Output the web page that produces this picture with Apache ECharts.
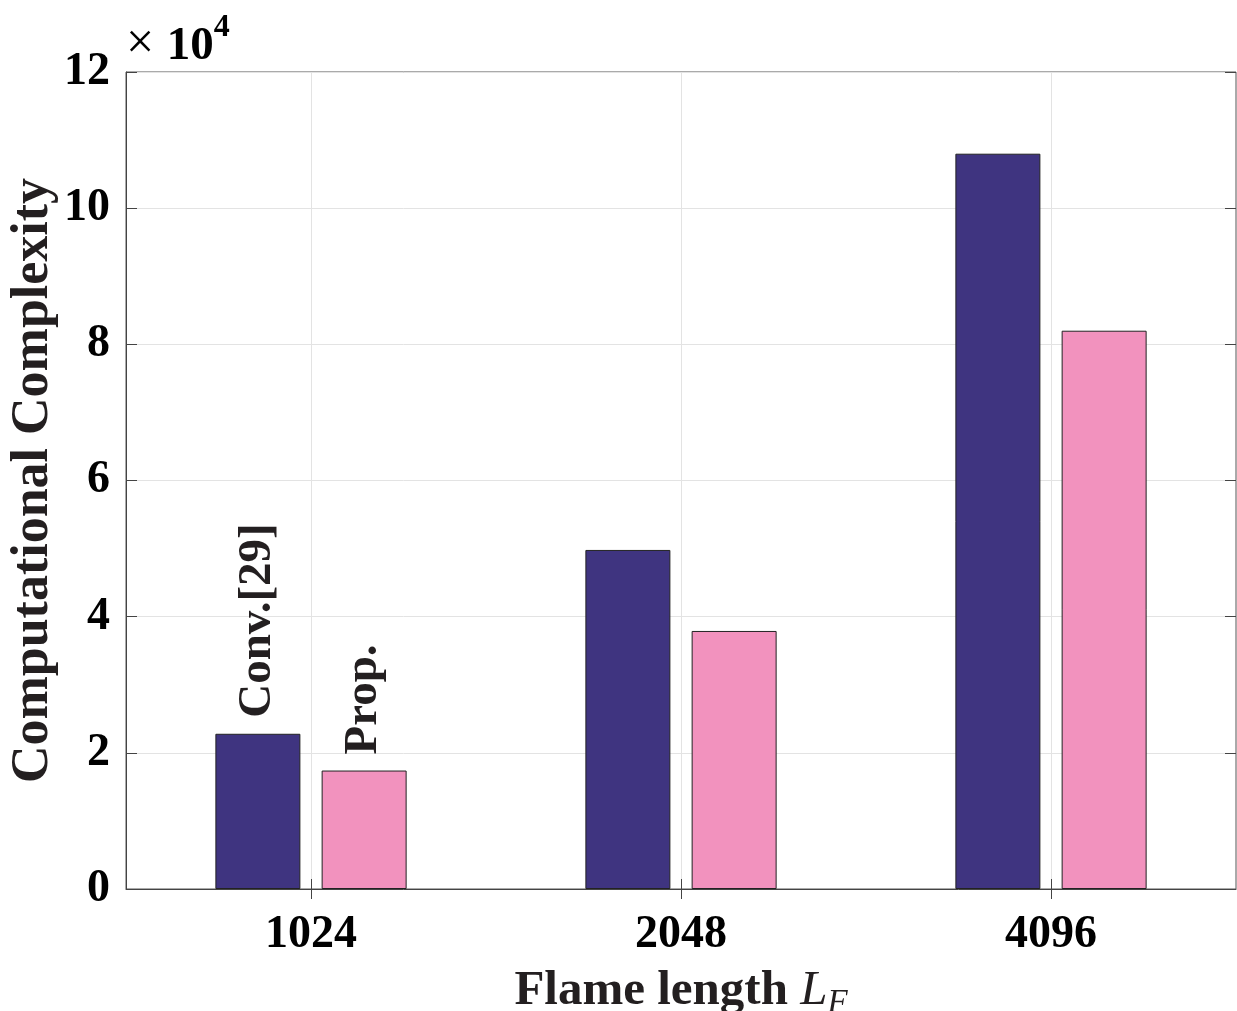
<!DOCTYPE html>
<html>
<head>
<meta charset="utf-8">
<script src="https://cdn.jsdelivr.net/npm/echarts@6/dist/echarts.min.js"></script>
<style>
  html, body { margin: 0; padding: 0; background: #fff; }
  #main { width: 1237px; height: 1011px; }
</style>
</head>
<body>
<div id="main"></div>
<script>
// data (values in units of 10^4)
var categories = ['1024', '2048', '4096'];
var convValues = [2.28, 4.98, 10.8];
var propValues = [1.74, 3.79, 8.2];
var seriesNames = ['Conv.[29]', 'Prop.'];
var yTicks = [0, 2, 4, 6, 8, 10, 12];

// helper categories so vertical grid lines fall on category centres
var gridCats = [];
categories.forEach(function (c) { gridCats.push('_' + c + 'a', c); });
gridCats.push('_end');

var font = 'Liberation Serif, Times New Roman, serif';
var chart = echarts.init(document.getElementById('main'), null, { renderer: 'canvas' });

function barLabel(text) {
  return {
    show: true,
    position: 'top',
    distance: 16,
    rotate: 90,
    align: 'left',
    verticalAlign: 'middle',
    fontFamily: font,
    fontWeight: 'bold',
    fontSize: 47,
    color: '#231f20',
    formatter: function (p) { return p.dataIndex === 0 ? text : ''; }
  };
}

var option = {
  backgroundColor: '#ffffff',
  animation: false,
  grid: {
    left: 126, right: 1, top: 72, bottom: 122,
    outerBoundsMode: 'none',
    containLabel: false,
    show: true, borderColor: '#555', borderWidth: 1, backgroundColor: 'transparent'
  },
  xAxis: [{
    type: 'category',
    data: categories,
    position: 'bottom',
    axisLine: { show: true, lineStyle: { color: '#444', width: 1 } },
    axisTick: { show: true, inside: true, alignWithLabel: true, length: 10, lineStyle: { color: '#444' } },
    axisLabel: { fontFamily: font, fontWeight: 'bold', fontSize: 46, color: '#000', margin: 23 },
    splitLine: { show: false },
    name: '{b|Flame length }{i|L}{s|F}',
    nameLocation: 'middle',
    nameGap: 74,
    nameMoveOverlap: false,
    nameTextStyle: {
      rich: {
        b: { fontFamily: font, fontWeight: 'bold', fontSize: 49, color: '#231f20' },
        i: { fontFamily: font, fontStyle: 'italic', fontSize: 49, color: '#231f20' },
        s: { fontFamily: font, fontStyle: 'italic', fontSize: 33, color: '#231f20', verticalAlign: 'bottom', padding: [24, 0, 0, 0] }
      }
    }
  }, {
    type: 'category',
    data: categories,
    position: 'top',
    axisLine: { show: false },
    axisTick: { show: true, inside: true, alignWithLabel: true, length: 10, lineStyle: { color: '#444' } },
    axisLabel: { show: false },
    splitLine: { show: false }
  }, {
    type: 'category',
    data: gridCats,
    boundaryGap: false,
    position: 'bottom',
    axisLine: { show: false },
    axisTick: { show: false },
    axisLabel: { show: false },
    splitLine: {
      show: true,
      interval: function (idx) { return idx % 2 === 1; },
      lineStyle: { color: '#e3e3e3', width: 1 }
    }
  }],
  yAxis: [{
    type: 'value',
    min: yTicks[0],
    max: yTicks[yTicks.length - 1],
    interval: yTicks[1] - yTicks[0],
    axisLine: { show: true, lineStyle: { color: '#444', width: 1 } },
    axisTick: { show: true, inside: true, length: 11, lineStyle: { color: '#444' } },
    axisLabel: { fontFamily: font, fontWeight: 'bold', fontSize: 46, color: '#000', margin: 16 },
    splitLine: { show: true, lineStyle: { color: '#e3e3e3', width: 1 } },
    name: 'Computational Complexity',
    nameLocation: 'middle',
    nameGap: 66,
    nameMoveOverlap: false,
    nameTextStyle: { fontFamily: font, fontWeight: 'bold', fontSize: 52, color: '#231f20' }
  }, {
    type: 'value',
    position: 'right',
    min: yTicks[0],
    max: yTicks[yTicks.length - 1],
    interval: yTicks[1] - yTicks[0],
    axisLine: { show: false },
    axisTick: { show: true, inside: true, length: 11, lineStyle: { color: '#444' } },
    axisLabel: { show: false },
    splitLine: { show: false }
  }],
  graphic: [{
    type: 'text',
    left: 126,
    top: 12,
    style: {
      text: '{x|\u00d7 }{n|10}{e|4}',
      rich: {
        x: { fontFamily: font, fontSize: 50, color: '#000', verticalAlign: 'bottom' },
        n: { fontFamily: font, fontWeight: 'bold', fontSize: 47, color: '#000', verticalAlign: 'bottom' },
        e: { fontFamily: font, fontWeight: 'bold', fontSize: 32, color: '#000', verticalAlign: 'top', padding: [0, 0, 26, 0] }
      }
    }
  }],
  series: [{
    name: seriesNames[0],
    type: 'bar',
    xAxisIndex: 0,
    yAxisIndex: 0,
    data: convValues,
    barWidth: 85,
    barGap: '25%',
    itemStyle: { color: '#3f3480', borderColor: '#222', borderWidth: 1 },
    label: barLabel(seriesNames[0])
  }, {
    name: seriesNames[1],
    type: 'bar',
    xAxisIndex: 0,
    yAxisIndex: 0,
    data: propValues,
    barWidth: 85,
    barGap: '25%',
    itemStyle: { color: '#f292be', borderColor: '#222', borderWidth: 1 },
    label: barLabel(seriesNames[1])
  }]
};

chart.setOption(option);
</script>
</body>
</html>
